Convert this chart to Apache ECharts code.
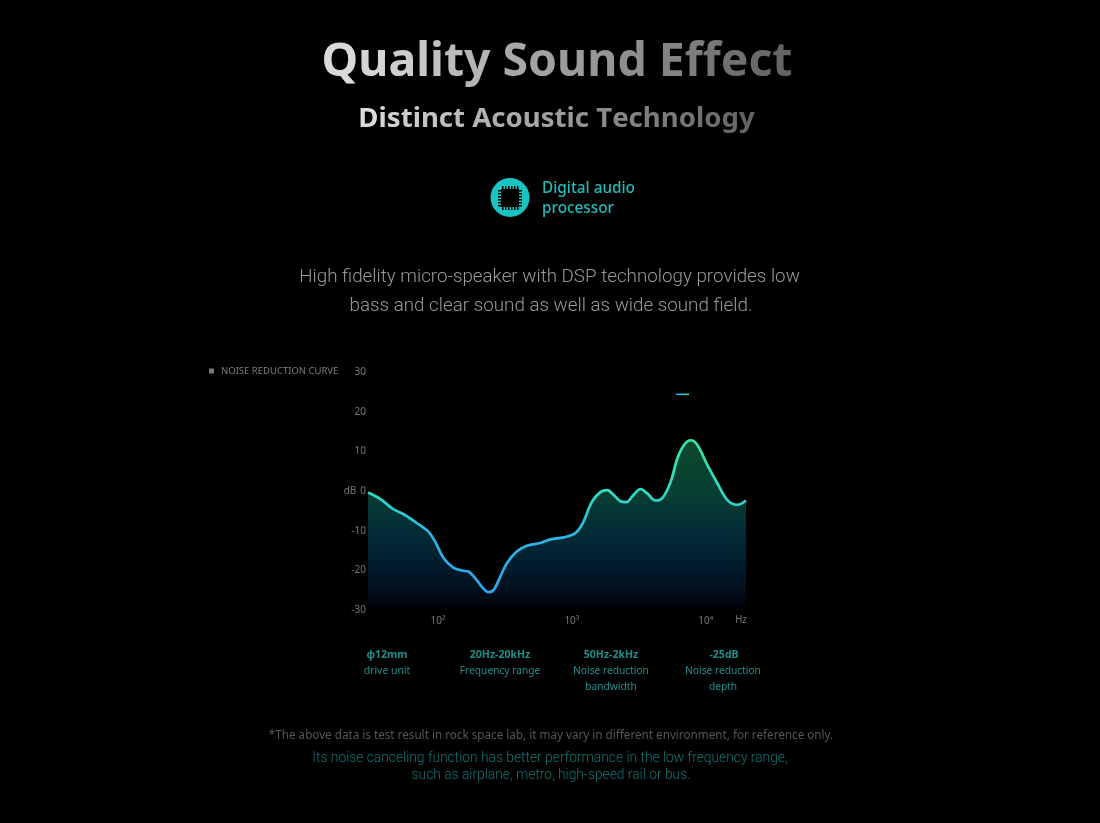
<!DOCTYPE html>
<html><head><meta charset="utf-8">
<style>html,body{margin:0;padding:0;background:#000}#c{width:1100px;height:823px}</style>
<script src="https://cdn.jsdelivr.net/npm/echarts@6/dist/echarts.min.js"></script>
</head><body><div id="c"></div>
<script>
const frequencies=[30,37,46,55,69,85,95,110,130,155,169,189,218,238,260,291,327,389,462,581,690,868,1062,1191,1415,1634,1837,2056,2307,2559,2825,3258,3656,4217,4742,5470,6138,6887,7728,8670,10300,12250,14540,17270,20000];
const decibels=[-0.4,-2.0,-4.5,-5.8,-8.0,-10.3,-12.7,-16.9,-19.3,-20.1,-20.3,-21.9,-24.6,-25.5,-25.0,-21.7,-18.2,-15.2,-13.8,-13.1,-12.2,-11.7,-10.6,-8.5,-2.7,-0.3,0.2,-1.0,-2.6,-2.8,-1.4,0.5,-0.6,-2.4,-1.8,2.3,8.2,11.6,12.8,11.6,6.5,1.9,-2.3,-3.5,-2.4];
const seriesName='NOISE REDUCTION CURVE';
const powerLabels={100:'10²',1000:'10³',10000:'10⁴'};

const FONT='"Noto Sans"';
function lerp(a,b,t){return Math.round(a+(b-a)*t);}
function gradText(txt,from,to,opts){
  const rich={};let s='';const n=txt.length;
  for(let i=0;i<n;i++){
    const v=lerp(from,to,i/(n-1)),k='c'+i;
    rich[k]={fill:`rgb(${v},${v},${v})`,font:opts.font};
    s+=txt[i]===' '?`{${k}|\u00a0}`:`{${k}|${txt[i]}}`;
  }
  return {type:'text',x:opts.x,y:opts.y,style:{text:s,rich,align:'center',verticalAlign:'middle',font:opts.font}};
}
function label(txt,x,y,size,fill,weight,family){
  return {type:'text',x,y,style:{text:txt,fill,align:'center',verticalAlign:'middle',font:`${weight||400} ${size}px ${family||FONT}`}};
}
const pins=[];
[-8,-5,-2,1,4,7].forEach(d=>{
  pins.push({type:'rect',shape:{x:510+d,y:186,width:1.5,height:24},style:{fill:'#000'}});
  pins.push({type:'rect',shape:{x:498,y:198+d,width:24,height:1.5},style:{fill:'#000'}});
});
const TEAL='#1f8f8c';
const graphic=[
  gradText('Quality Sound Effect',218,100,{x:557,y:63,font:'700 46.4px '+FONT}),
  gradText('Distinct Acoustic Technology',218,100,{x:556.5,y:119,font:'700 27.6px '+FONT}),
  {type:'circle',shape:{cx:510,cy:197.5,r:19.5},style:{fill:'#17c4c2'}},
  ...pins,
  {type:'rect',shape:{x:501,y:189,width:18,height:18},style:{fill:'#000'}},
  {type:'text',x:542,y:189,style:{text:'Digital audio',fill:'#1fbcb8',align:'left',verticalAlign:'middle',font:`500 15.3px ${FONT}`}},
  {type:'text',x:542,y:209,style:{text:'processor',fill:'#1fbcb8',align:'left',verticalAlign:'middle',font:`500 15.3px ${FONT}`}},
  label('High fidelity micro-speaker with DSP technology provides low',549.5,277,18.8,'#9a9a9a',300,'Roboto'),
  label('bass and clear sound as well as wide sound field.',551,306,18.8,'#9a9a9a',300,'Roboto'),
  {type:'text',x:350,y:491,style:{text:'dB',fill:'#777',align:'center',verticalAlign:'middle',font:`400 10px ${FONT}`}},
  {type:'text',x:741,y:620,style:{text:'Hz',fill:'#777',align:'center',verticalAlign:'middle',font:`400 10px ${FONT}`}},
  {type:'rect',shape:{x:676,y:393.5,width:13,height:1.6},style:{fill:new echarts.graphic.LinearGradient(0,0,1,0,[{offset:0,color:'#2aa5e0'},{offset:1,color:'#30d8b0'}])}},
  label('φ12mm',387,655,10.5,TEAL,700),label('drive unit',387,671,10.4,TEAL),
  label('20Hz-20kHz',500,655,10.5,TEAL,700),label('Frequency range',500,671,10.2,TEAL),
  label('50Hz-2kHz',611,655,10.5,TEAL,700),label('Noise reduction',611,671,10.2,TEAL),label('bandwidth',611,687,10.2,TEAL),
  label('-25dB',724,655,10.5,TEAL,700),label('Noise reduction',723,671,10.2,TEAL),label('depth',723,687,10.2,TEAL),
  label('*The above data is test result in rock space lab, it may vary in different environment, for reference only.',551,736,11.7,'#565656'),
  label('Its noise canceling function has better performance in the low frequency range,',550,759,13.8,'#117472',300,'Roboto'),
  label('such as airplane, metro, high-speed rail or bus.',551,776,13.8,'#117472',300,'Roboto')
];
const chart=echarts.init(document.getElementById('c'),null,{renderer:'canvas'});
chart.setOption({
  backgroundColor:'#000',animation:false,
  legend:{left:204,top:361,itemWidth:5,itemHeight:5,itemGap:4,icon:'rect',data:[{name:seriesName,itemStyle:{color:'#777'}}],
    textStyle:{color:'#7c7c7c',fontFamily:FONT,fontSize:9.5,padding:[0,0,0,2]},selectedMode:false},
  grid:{left:368,right:354,top:372,height:238},
  xAxis:{type:'log',logBase:10,min:30,max:20000,
    axisLine:{show:false},axisTick:{show:false},splitLine:{show:false},minorSplitLine:{show:false},
    axisLabel:{color:'#777',fontFamily:FONT,fontSize:10,margin:6,showMinLabel:false,showMaxLabel:false,formatter:v=>powerLabels[Math.round(v)]||''}},
  yAxis:{type:'value',min:-30,max:30,interval:10,axisLine:{show:false},axisTick:{show:false},splitLine:{show:false},
    axisLabel:{color:'#777',fontFamily:FONT,fontSize:10,margin:2}},
  series:[{name:seriesName,type:'line',smooth:0.35,showSymbol:false,symbol:'none',clip:false,
    data:frequencies.map((f,i)=>[f,decibels[i]]),
    lineStyle:{width:2.7,color:new echarts.graphic.LinearGradient(0,0,0,1,[{offset:0,color:'#38e6a4'},{offset:0.35,color:'#30dcc4'},{offset:0.62,color:'#2cb6e4'},{offset:1,color:'#2ca6f0'}])},
    areaStyle:{origin:'start',color:new echarts.graphic.LinearGradient(0,0,0,1,[{offset:0,color:'#11683f'},{offset:0.3,color:'#0b5a48'},{offset:0.6,color:'#03384e'},{offset:0.85,color:'#031a30'},{offset:1,color:'#000208'}])},
    itemStyle:{color:'#777'}}],
  graphic
});
</script></body></html>
